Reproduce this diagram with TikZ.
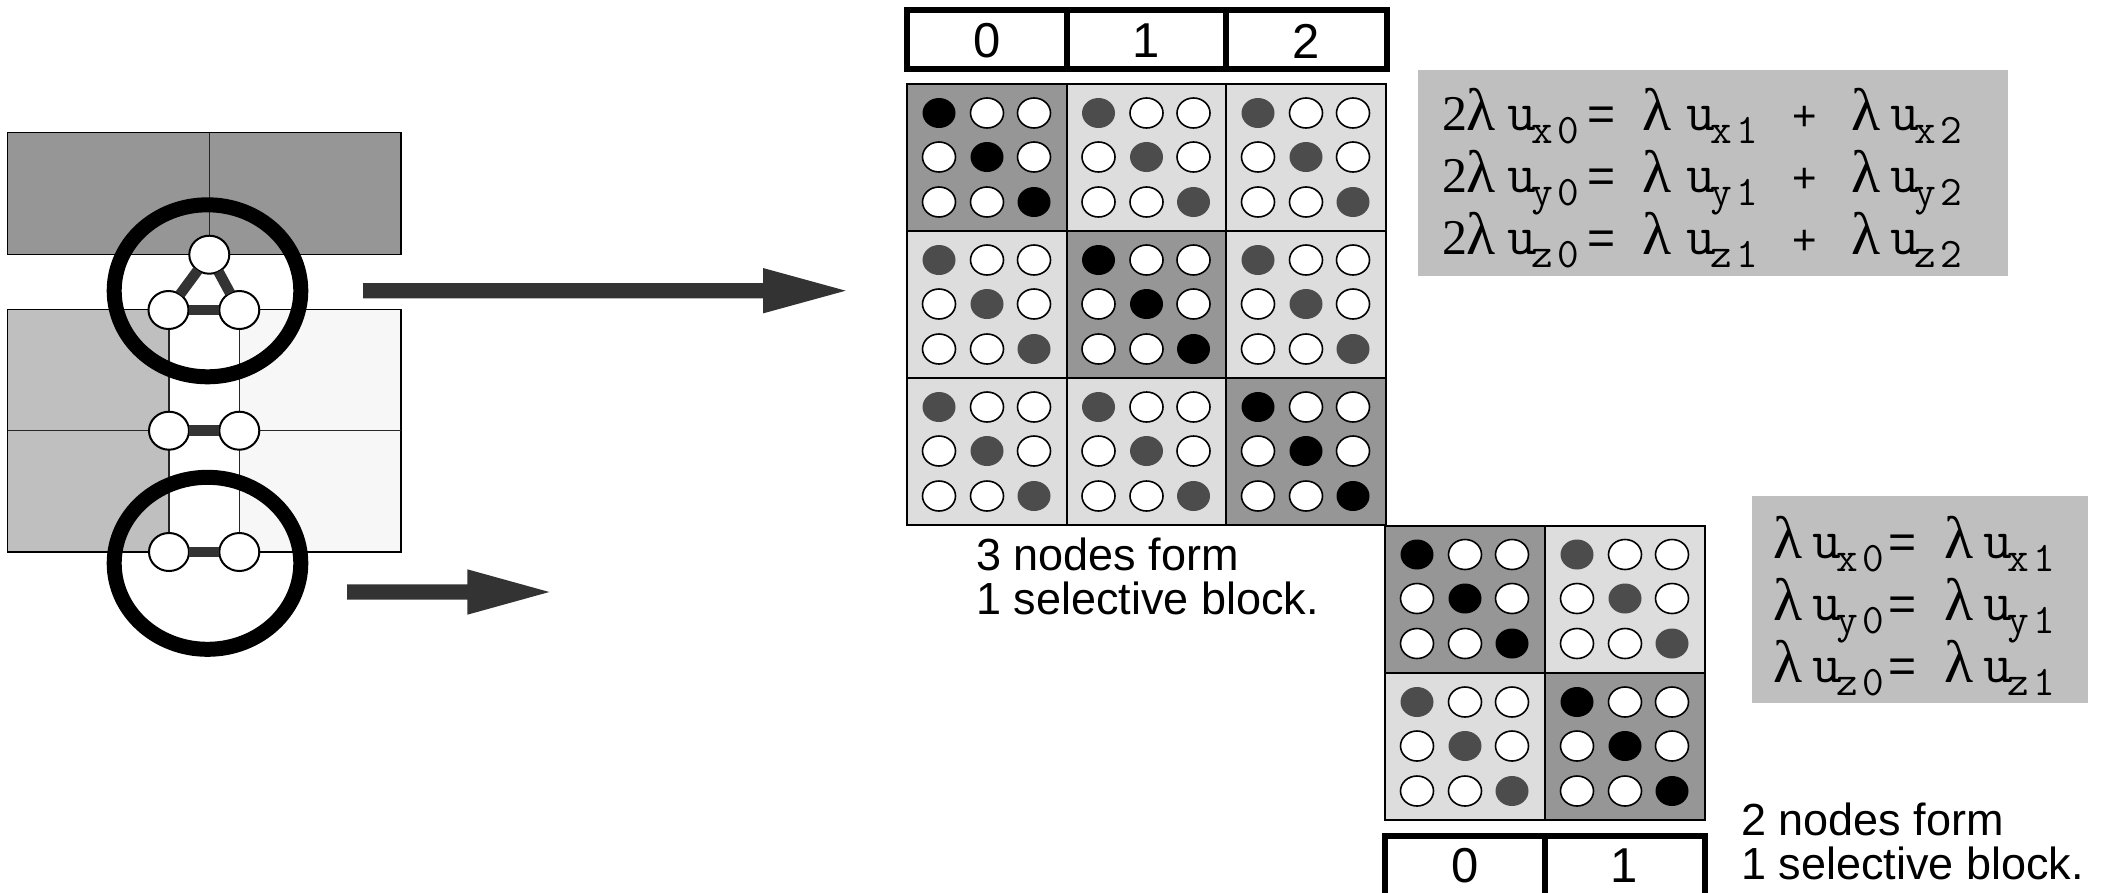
\documentclass[tikz,border=0pt]{standalone}
\usepackage{fontspec}
\setmainfont{Liberation Sans}
\newfontfamily\eqserif{Liberation Serif}
\usetikzlibrary{shapes.geometric}
\newcommand{\sz}[1]{\fontsize{#1}{#1}\selectfont}
\newcommand{\lam}{{\eqserif\sz{60}\char"03BB}}
\newcommand{\uvar}[2]{{\ttfamily\sz{56}u}\raisebox{-13pt}{\ttfamily\sz{42}\hspace{-4pt}#1\hspace{4pt}#2}}
\tikzset{
  x=1pt,y=-1pt,
  halo/.style={draw=black,line width=15pt,fill=none},
  peer/.style={ellipse,draw=black,fill=white,line width=2pt,minimum width=40pt,minimum height=38pt,inner sep=0pt,outer sep=0pt},
  link/.style={draw=black!80,line width=10.5pt},
  edge/.style={draw=black!85,line width=1.5pt},
  outline/.style={draw=black,line width=1.5pt},
  bigarrow/.style={fill=black!80,draw=none},
  cellbox/.style={draw=black,line width=2pt},
  dot/.style={ellipse,minimum width=33pt,minimum height=30pt,inner sep=0pt,outer sep=0pt},
  dotw/.style={dot,fill=white,draw=black,line width=1.6pt},
  dotk/.style={dot,fill=black},
  dotg/.style={dot,fill=black!70},
  hdr/.style={draw=black,line width=6pt,fill=white},
  digit/.style={font=\sz{49},inner sep=0pt},
  caption/.style={font=\sz{45},anchor=base west,inner sep=0pt},
  eqbox/.style={fill=black!25,draw=none},
  eqt/.style={anchor=base west,inner sep=0pt,outer sep=0pt},
}
\newcommand{\cell}[4]{% x,y,fill,diagonal dot style
  \fill[#3] (#1,#2) rectangle ++(160,147);
  \draw[cellbox] (#1,#2) rectangle ++(160,147);
  \foreach \r/\yo in {0/29,1/73,2/118}{
    \foreach \c/\xo in {0/32,1/80,2/127}{
      \ifnum\r=\c\relax
        \node[#4] (n#1-#2-\r\c) at (#1+\xo,#2+\yo) {};
      \else
        \node[dotw] (n#1-#2-\r\c) at (#1+\xo,#2+\yo) {};
      \fi
    }
  }
}
\definecolor{cdark}{HTML}{969696}
\definecolor{clight}{HTML}{DDDDDD}
\begin{document}
\begin{tikzpicture}
\useasboundingbox (0,0) rectangle (2103,892);
% mesh
\fill[black!41] (7.5,132.7) rectangle (401,254.5);
\fill[black!25] (7.5,309.7) rectangle (169,552);
\fill[black!3] (239.3,309.7) rectangle (401,552);
\draw[outline] (7.5,132.7) rectangle (401,254.5);
\draw[outline] (7.5,309.7) rectangle (401,552);
\draw[edge] (7.5,430.7) -- (401,430.7);
\draw[edge] (209.7,132.7) -- (209.7,254.5);
\draw[edge] (169,309.7) -- (169,552);
\draw[edge] (239.3,309.7) -- (239.3,552);
\node[peer] (a) at (209.3,254.7) {};
\node[peer] (b) at (168.5,310) {};
\node[peer] (c) at (239.3,310) {};
\node[peer] (d) at (169,430.7) {};
\node[peer] (e) at (239.3,430.7) {};
\node[peer] (f) at (169,552) {};
\node[peer] (g) at (239.3,552) {};
\draw[link] (a) -- (b);
\draw[link] (a) -- (c);
\draw[link] (b) -- (c);
\draw[link] (d) -- (e);
\draw[link] (f) -- (g);
\draw[halo] (207.5,290.8) ellipse (93.3 and 86);
\draw[halo] (207.5,563.3) ellipse (93.3 and 86);
% arrows
\fill[bigarrow] (363,283) -- (763,283) -- (763,268) -- (845.7,290.7) -- (763,313.4) -- (763,298.4) -- (363,298.4) -- cycle;
\fill[bigarrow] (347,584.3) -- (467.3,584.3) -- (467.3,569.3) -- (549.3,592) -- (467.3,614.7) -- (467.3,599.7) -- (347,599.7) -- cycle;
% top matrix
\draw[hdr] (907,10) rectangle (1386.5,69);
\draw[hdr] (1067,10) -- (1067,69);
\draw[hdr] (1226,10) -- (1226,69);
\node[digit] (h0) at (987,41) {0};
\node[digit] (h1) at (1146.5,41) {1};
\node[digit] (h2) at (1306,41) {2};
\cell{907}{84}{cdark}{dotk}
\cell{1066.5}{84}{clight}{dotg}
\cell{1226}{84}{clight}{dotg}
\cell{907}{231}{clight}{dotg}
\cell{1066.5}{231}{cdark}{dotk}
\cell{1226}{231}{clight}{dotg}
\cell{907}{378}{clight}{dotg}
\cell{1066.5}{378}{clight}{dotg}
\cell{1226}{378}{cdark}{dotk}
% bottom matrix
\cell{1385}{525.5}{cdark}{dotk}
\cell{1545}{525.5}{clight}{dotg}
\cell{1385}{673}{clight}{dotg}
\cell{1545}{673}{cdark}{dotk}
\draw[hdr] (1385,836) rectangle (1705,900);
\draw[hdr] (1544.5,836) -- (1544.5,900);
\node[digit] (k0) at (1465.5,866) {0};
\node[digit] (k1) at (1624,866) {1};
% captions
\node[caption] (c1) at (976,570) {3 nodes form};
\node[caption] (c2) at (976,614) {1 selective block.};
\node[caption] (c3) at (1741,835.5) {2 nodes form};
\node[caption] (c4) at (1741,879) {1 selective block.};
% equations
\fill[eqbox] (1418,70) rectangle (2008,276);
\fill[eqbox] (1752,496) rectangle (2088,702.7);
\foreach \v/\y in {x/130,y/192,z/254}{
  \node[eqt] (p\v a) at (1442,\y) {{\eqserif\sz{50}2}};
  \node[eqt] (p\v b) at (1466,\y) {\lam};
  \node[eqt] (p\v c) at (1507,\y) {\uvar{\v}{0}};
  \node[eqt] (p\v d) at (1587,\y) {{\sz{48}=}};
  \node[eqt] (p\v e) at (1642,\y) {\lam};
  \node[eqt] (p\v f) at (1686,\y) {\uvar{\v}{1}};
  \node[eqt] (p\v g) at (1792,\y) {{\sz{42}+}};
  \node[eqt] (p\v h) at (1851,\y) {\lam};
  \node[eqt] (p\v i) at (1890,\y) {\uvar{\v}{2}};
}
\foreach \v/\y in {x/558,y/620,z/682}{
  \node[eqt] (q\v a) at (1773,\y) {\lam};
  \node[eqt] (q\v b) at (1812,\y) {\uvar{\v}{0}};
  \node[eqt] (q\v c) at (1888,\y) {{\sz{48}=}};
  \node[eqt] (q\v d) at (1944,\y) {\lam};
  \node[eqt] (q\v e) at (1983,\y) {\uvar{\v}{1}};
}
\end{tikzpicture}
\end{document}
